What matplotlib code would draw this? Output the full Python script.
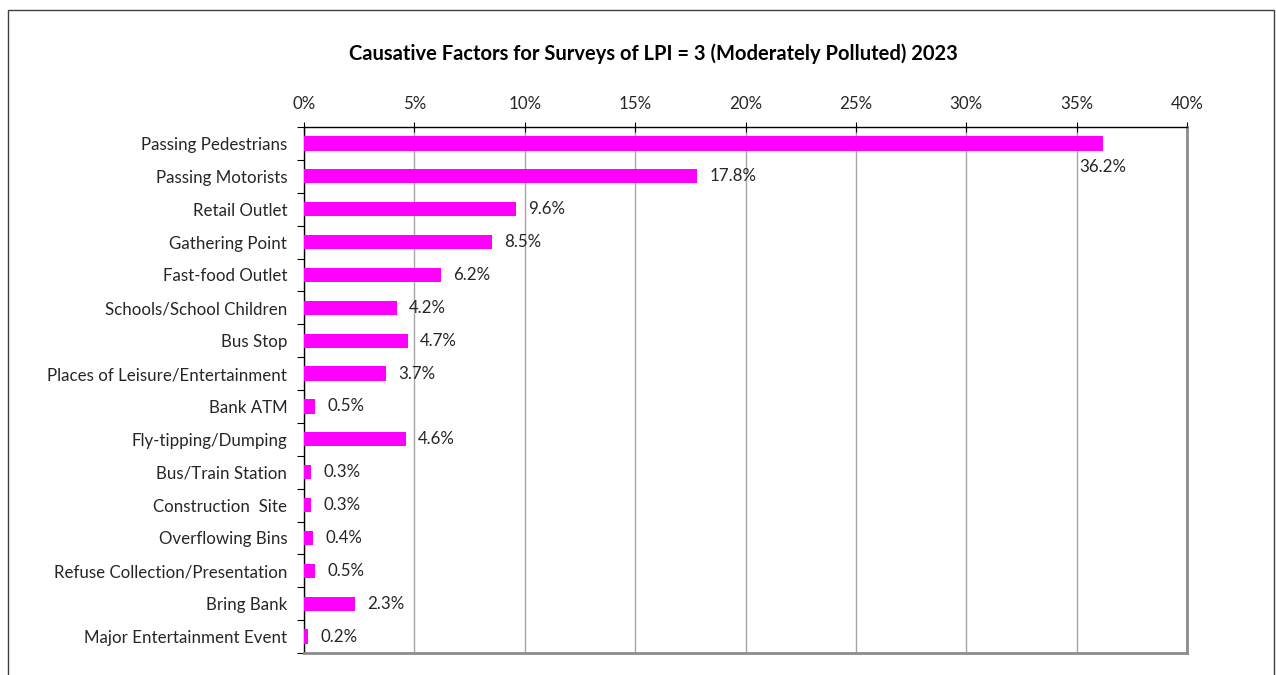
import matplotlib
matplotlib.use("Agg")
import matplotlib.pyplot as plt
from matplotlib.patches import Rectangle
from matplotlib.ticker import FixedLocator, PercentFormatter

plt.rcParams['font.family'] = ['Lato', 'DejaVu Sans']

title = "Causative Factors for Surveys of LPI = 3 (Moderately Polluted) 2023"
categories = [
    "Passing Pedestrians", "Passing Motorists", "Retail Outlet", "Gathering Point",
    "Fast-food Outlet", "Schools/School Children", "Bus Stop",
    "Places of Leisure/Entertainment", "Bank ATM", "Fly-tipping/Dumping",
    "Bus/Train Station", "Construction  Site", "Overflowing Bins",
    "Refuse Collection/Presentation", "Bring Bank", "Major Entertainment Event",
]
values = [36.2, 17.8, 9.6, 8.5, 6.2, 4.2, 4.7, 3.7, 0.5, 4.6, 0.3, 0.3, 0.4, 0.5, 2.3, 0.2]
x_ticks = [0, 5, 10, 15, 20, 25, 30, 35, 40]

W, H = 1276, 675
fig = plt.figure(figsize=(W / 100, H / 100), dpi=100)
fig.patch.set_facecolor("white")

# outer chart border
fig.add_artist(Rectangle((8 / W, -0.02), (1274 - 8) / W, 1 - 10 / H + 0.02,
                         transform=fig.transFigure, fill=False,
                         edgecolor="#404040", linewidth=1.0))

ax = fig.add_axes([304 / W, 1 - 653 / H, (1187 - 304) / W, (653 - 127) / H])
n = len(categories)
ypos = list(range(n))
ax.barh(ypos, values, height=0.43, color="#FF00FF", zorder=3)

ax.set_xlim(0, 40)
ax.set_ylim(n - 0.5, -0.5)

fs = 12.2
ax.xaxis.tick_top()
ax.xaxis.set_major_locator(FixedLocator(x_ticks))
ax.xaxis.set_major_formatter(PercentFormatter(decimals=0))
ax.tick_params(axis="x", which="major", direction="inout", length=7, width=0.8,
               color="black", labelsize=fs, pad=7, labelcolor="#262626")
ax.grid(axis="x", color="#A6A6A6", linewidth=1.0, zorder=0)

# category labels as minor ticks at bar centres, boundary ticks as major
ax.yaxis.set_major_locator(FixedLocator([i - 0.5 for i in range(n + 1)]))
ax.yaxis.set_major_formatter(plt.NullFormatter())
ax.yaxis.set_minor_locator(FixedLocator(ypos))
ax.set_yticklabels(categories, minor=True)
ax.tick_params(axis="y", which="major", direction="out", length=5, width=0.8, color="black")
ax.tick_params(axis="y", which="minor", length=0, labelsize=fs, pad=12, labelcolor="#262626")

for s in ["top", "left"]:
    ax.spines[s].set_color("black")
    ax.spines[s].set_linewidth(1.0)
for s in ["right", "bottom"]:
    ax.spines[s].set_color("#8C8C8C")
    ax.spines[s].set_linewidth(2.0)

for i, v in enumerate(values):
    if v > 30:
        ax.annotate(f"{v:.1f}%", xy=(v, i), xytext=(0, -17), textcoords="offset points",
                    ha="center", va="center", fontsize=fs, color="#262626")
    else:
        ax.annotate(f"{v:.1f}%", xy=(v, i), xytext=(9, 0), textcoords="offset points",
                    ha="left", va="center", fontsize=fs, color="#262626")

fig.text(653 / W, 1 - 54 / H, title, ha="center", va="center",
         fontsize=14.5, fontweight="bold", color="black")

fig.savefig("out.png", dpi=100)
